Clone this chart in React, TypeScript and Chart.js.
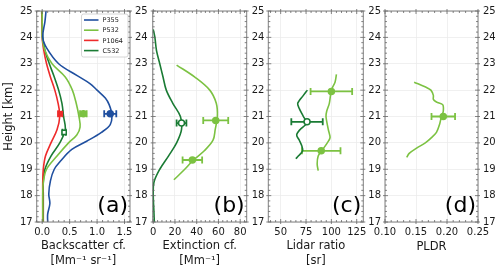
import React, { useEffect, useRef } from "react";
import { Chart, registerables } from "chart.js";

Chart.register(...registerables);

const FONT = "'DejaVu Sans', 'Liberation Sans', sans-serif";
const TEXT = "#1a1a1a";
const SPINE = "#808080";
const GRID = "#ececec";

const C_P355 = "#1f4f9f";
const C_P532 = "#7cc242";
const C_P1064 = "#ee2b2b";
const C_C532 = "#1a7b34";

// ---- shared height axis ----
const heightTicks = [17, 18, 19, 20, 21, 22, 23, 24, 25];
const H_MIN = 17;
const H_MAX = 25;

// ---- legend ----
const legendNames = ["P355", "P532", "P1064", "C532"];
const legendColors = [C_P355, C_P532, C_P1064, C_C532];

// ---- panel (a) backscatter ----
const bscTicks = [0, 0.5, 1.0, 1.5];
const bscP355H = [25, 24.6, 24.0, 23.6, 23.0, 22.56, 22.25, 22.0, 21.7, 21.45, 21.06, 20.69, 20.4, 20.06, 19.75, 19.3, 19.0, 18.56, 18.06, 17.7, 17.3, 17.0];
const bscP355V = [0.07, 0.05, 0.01, 0.08, 0.30, 0.63, 0.87, 1.0, 1.15, 1.22, 1.27, 1.24, 1.08, 0.81, 0.54, 0.33, 0.22, 0.15, 0.12, 0.14, 0.1, 0.1];
const bscP532H = [25, 24.5, 24.0, 23.5, 23.0, 22.5, 22.0, 21.5, 21.0, 20.6, 20.3, 20.0, 19.5, 19.0, 18.5, 18.0, 17.5, 17.0];
const bscP532V = [0.0, 0.0, 0.0, 0.05, 0.18, 0.42, 0.55, 0.62, 0.67, 0.69, 0.63, 0.48, 0.27, 0.08, 0.02, 0.01, 0.01, 0.01];
const bscP1064H = [25, 24.0, 23.5, 23.0, 22.5, 22.0, 21.5, 21.0, 20.5, 20.0, 19.5, 19.0, 18.5, 18.0, 17.0];
const bscP1064V = [0.0, 0.0, 0.03, 0.08, 0.15, 0.23, 0.29, 0.32, 0.27, 0.16, 0.06, 0.02, 0.01, 0.01, 0.01];
const bscC532H = [25, 24.5, 24.0, 23.5, 23.0, 22.5, 22.0, 21.5, 21.0, 20.5, 20.0, 19.5, 19.0, 18.5, 18.0, 17.0];
const bscC532V = [-0.01, 0.0, 0.01, 0.05, 0.13, 0.22, 0.30, 0.36, 0.39, 0.42, 0.32, 0.16, 0.05, 0.02, 0.02, 0.02];
const bscPtH = [21.1, 21.1, 21.1, 20.4];
const bscPtV = [1.24, 0.75, 0.33, 0.40];
const bscPtE = [0.11, 0.06, 0.04, 0.03];

// ---- panel (b) extinction ----
const extTicks = [0, 20, 40, 60, 80];
const extC532H = [24.3, 24.0, 23.5, 23.0, 22.5, 22.0, 21.5, 21.0, 20.5, 20.0, 19.5, 19.0, 18.5, 18.0, 17.5, 17.0];
const extC532V = [0, 1.5, 3, 6, 9, 12, 18, 25, 26, 21.5, 14, 6, 0.6, 0, 0.5, 1];
const extP532H = [22.95, 22.5, 22.0, 21.5, 21.0, 20.5, 20.1, 19.7, 19.35, 19.0, 18.6];
const extP532V = [21.5, 38, 52, 58, 59, 57, 55, 47, 37, 29, 19];
const extC532PtH = [20.75];
const extC532PtV = [26];
const extC532PtE = [4.5];
const extP532PtH = [20.85, 19.35];
const extP532PtV = [57.5, 36];
const extP532PtE = [11.5, 9];

// ---- panel (c) lidar ratio ----
const lrTicks = [50, 75, 100, 125];
const lrC532H = [22.0, 21.8, 21.5, 21.3, 21.0, 20.75, 20.5, 20.3, 20.1, 19.9, 19.7, 19.5, 19.4];
const lrC532V = [76.3, 72.4, 66.8, 68.4, 72.4, 75.7, 69, 65.8, 68.4, 70.7, 71.7, 67.4, 65];
const lrP532H = [22.6, 22.3, 22.0, 21.5, 21.2, 21.0, 20.5, 20.2, 20.0, 19.7, 19.5, 19.2, 18.95];
const lrP532V = [105, 103.6, 100, 98, 95.4, 94.7, 97, 98.7, 96, 90.5, 87, 86, 87];
const lrC532PtH = [20.8];
const lrC532PtV = [76];
const lrC532PtE = [15.5];
const lrP532PtH = [21.95, 19.7];
const lrP532PtV = [100, 90];
const lrP532PtE = [20.5, 19];

// ---- panel (d) PLDR ----
const pldrTicks = [0.1, 0.15, 0.2, 0.25];
const pldrH = [22.3, 22.1, 22.0, 21.8, 21.65, 21.55, 21.45, 21.2, 21.0, 20.7, 20.4, 20.2, 20.0, 19.8, 19.6, 19.45];
const pldrV = [0.147, 0.167, 0.174, 0.178, 0.178, 0.183, 0.193, 0.194, 0.191, 0.188, 0.183, 0.175, 0.165, 0.151, 0.139, 0.135];
const pldrPtH = [21.0];
const pldrPtV = [0.194];
const pldrPtE = [0.019];

// ---- layout ----
const W = 500;
const H = 270;
const TOP = 7;
const BOTTOM = 222;

type Curve = { h: number[]; v: number[]; color: string; tension: number };
type Marker = { h: number[]; v: number[]; err: number[]; color: string; style: string; hollow: boolean; r: number };
type Panel = {
  left: number; right: number; xMin: number; xMax: number;
  xTicks: number[]; xMinor: number; decimals: number;
  title: string | string[]; titlePad: number; label: string;
  leftLabels: boolean; legend: boolean;
  curves: Curve[]; markers: Marker[];
};

const panels: Panel[] = [
  {
    left: 36.7, right: 130, xMin: -0.1, xMax: 1.6, xTicks: bscTicks, xMinor: 0.1, decimals: 1,
    title: ["Backscatter cf.", "[Mm\u207B\u00B9 sr\u207B\u00B9]"], titlePad: 1.5, label: "(a)",
    leftLabels: true, legend: true,
    curves: [
      { h: bscP355H, v: bscP355V, color: C_P355, tension: 0.35 },
      { h: bscP532H, v: bscP532V, color: C_P532, tension: 0.35 },
      { h: bscP1064H, v: bscP1064V, color: C_P1064, tension: 0.35 },
      { h: bscC532H, v: bscC532V, color: C_C532, tension: 0.35 },
    ],
    markers: [
      { h: [bscPtH[0]], v: [bscPtV[0]], err: [bscPtE[0]], color: C_P355, style: "circle", hollow: false, r: 3 },
      { h: [bscPtH[1]], v: [bscPtV[1]], err: [bscPtE[1]], color: C_P532, style: "circle", hollow: false, r: 3 },
      { h: [bscPtH[2]], v: [bscPtV[2]], err: [bscPtE[2]], color: C_P1064, style: "rect", hollow: false, r: 3 },
      { h: [bscPtH[3]], v: [bscPtV[3]], err: [bscPtE[3]], color: C_C532, style: "rect", hollow: true, r: 3 },
    ],
  },
  {
    left: 152.7, right: 246.7, xMin: -0.5, xMax: 86, xTicks: extTicks, xMinor: 4, decimals: 0,
    title: ["Extinction cf.", "[Mm\u207B\u00B9]"], titlePad: 1.5, label: "(b)",
    leftLabels: false, legend: false,
    curves: [
      { h: extC532H, v: extC532V, color: C_C532, tension: 0.35 },
      { h: extP532H, v: extP532V, color: C_P532, tension: 0.35 },
    ],
    markers: [
      { h: extC532PtH, v: extC532PtV, err: extC532PtE, color: C_C532, style: "circle", hollow: true, r: 3 },
      { h: extP532PtH, v: extP532PtV, err: extP532PtE, color: C_P532, style: "circle", hollow: false, r: 3 },
    ],
  },
  {
    left: 268.3, right: 363.3, xMin: 37.8, xMax: 131.5, xTicks: lrTicks, xMinor: 5, decimals: 0,
    title: ["Lidar ratio", "[sr]"], titlePad: 1.5, label: "(c)",
    leftLabels: false, legend: false,
    curves: [
      { h: lrC532H, v: lrC532V, color: C_C532, tension: 0.3 },
      { h: lrP532H, v: lrP532V, color: C_P532, tension: 0.3 },
    ],
    markers: [
      { h: lrC532PtH, v: lrC532PtV, err: lrC532PtE, color: C_C532, style: "circle", hollow: true, r: 3 },
      { h: lrP532PtH, v: lrP532PtV, err: lrP532PtE, color: C_P532, style: "circle", hollow: false, r: 3 },
    ],
  },
  {
    left: 385, right: 478, xMin: 0.1, xMax: 0.25, xTicks: pldrTicks, xMinor: 0.01, decimals: 2,
    title: "PLDR", titlePad: 16, label: "(d)",
    leftLabels: false, legend: false,
    curves: [{ h: pldrH, v: pldrV, color: C_P532, tension: 0.3 }],
    markers: [{ h: pldrPtH, v: pldrPtV, err: pldrPtE, color: C_P532, style: "circle", hollow: false, r: 3 }],
  },
];

const errorBarPlugin = {
  id: "errbars",
  beforeDatasetsDraw(chart: any) {
    const ctx = chart.ctx;
    const xs = chart.scales.x;
    const ys = chart.scales.y;
    chart.data.datasets.forEach((ds: any) => {
      if (!ds.errX) return;
      ds.data.forEach((p: any, i: number) => {
        const e = ds.errX[i];
        const x0 = xs.getPixelForValue(p.x - e);
        const x1 = xs.getPixelForValue(p.x + e);
        const y = ys.getPixelForValue(p.y);
        ctx.save();
        ctx.strokeStyle = ds.borderColor;
        ctx.lineWidth = 1.8;
        ctx.beginPath();
        ctx.moveTo(x0, y);
        ctx.lineTo(x1, y);
        ctx.moveTo(x0, y - 3.5);
        ctx.lineTo(x0, y + 3.5);
        ctx.moveTo(x1, y - 3.5);
        ctx.lineTo(x1, y + 3.5);
        ctx.stroke();
        ctx.restore();
      });
    });
  },
};

function makeFramePlugin(p: Panel) {
  return {
    id: "frame",
    afterDraw(chart: any) {
      const ctx = chart.ctx;
      const a = chart.chartArea;
      const xs = chart.scales.x;
      const ys = chart.scales.y;
      ctx.save();
      ctx.strokeStyle = SPINE;
      ctx.lineWidth = 1;
      ctx.strokeRect(a.left, a.top, a.right - a.left, a.bottom - a.top);
      ctx.strokeStyle = "#666";
      ctx.lineWidth = 0.8;
      ctx.beginPath();
      const eps = 1e-9;
      // x minor + major
      const startX = Math.ceil((p.xMin - eps) / p.xMinor) * p.xMinor;
      for (let v = startX; v <= p.xMax + eps; v += p.xMinor) {
        const isMajor = p.xTicks.some((t) => Math.abs(t - v) < p.xMinor / 10);
        const x = xs.getPixelForValue(v);
        const L = isMajor ? 3 : 2;
        ctx.moveTo(x, a.bottom);
        ctx.lineTo(x, a.bottom - L);
        ctx.moveTo(x, a.top);
        ctx.lineTo(x, a.top + L);
        if (isMajor) {
          ctx.moveTo(x, a.bottom);
          ctx.lineTo(x, a.bottom + 2);
          ctx.moveTo(x, a.top);
          ctx.lineTo(x, a.top - 2);
        }
      }
      // y minor + major
      for (let k = 0; k <= (H_MAX - H_MIN) * 5; k++) {
        const v = H_MIN + k * 0.2;
        const isMajor = k % 5 === 0;
        const y = ys.getPixelForValue(v);
        const L = isMajor ? 3 : 2;
        ctx.moveTo(a.left, y);
        ctx.lineTo(a.left + L, y);
        ctx.moveTo(a.right, y);
        ctx.lineTo(a.right - L, y);
        if (isMajor) {
          ctx.moveTo(a.left, y);
          ctx.lineTo(a.left - 2, y);
          ctx.moveTo(a.right, y);
          ctx.lineTo(a.right + 2, y);
        }
      }
      ctx.stroke();

      // panel label
      ctx.fillStyle = "#000";
      ctx.font = `22px ${FONT}`;
      ctx.textAlign = "right";
      ctx.textBaseline = "alphabetic";
      ctx.fillText(p.label, a.right - 2, a.bottom - 10);

      // legend
      if (p.legend) {
        const bw = 46.5;
        const bh = 43;
        const bx = a.right - 2 - bw;
        const by = a.top + 3;
        ctx.fillStyle = "rgba(255,255,255,0.9)";
        ctx.strokeStyle = "#cccccc";
        ctx.lineWidth = 0.8;
        ctx.beginPath();
        if ((ctx as any).roundRect) (ctx as any).roundRect(bx, by, bw, bh, 2);
        else ctx.rect(bx, by, bw, bh);
        ctx.fill();
        ctx.stroke();
        ctx.font = `6.5px ${FONT}`;
        ctx.textAlign = "left";
        ctx.textBaseline = "middle";
        legendNames.forEach((name, i) => {
          const y = by + 6 + i * 10.2;
          ctx.strokeStyle = legendColors[i];
          ctx.lineWidth = 1.6;
          ctx.beginPath();
          ctx.moveTo(bx + 2.5, y);
          ctx.lineTo(bx + 17, y);
          ctx.stroke();
          ctx.fillStyle = "#222";
          ctx.fillText(name, bx + 21, y + 0.5);
        });
      }
      ctx.restore();
    },
  };
}

function makeConfig(p: Panel): any {
  const leftW = p.leftLabels ? p.left : 2;
  const rightW = 20;
  const datasets: any[] = [];
  p.markers.forEach((m) => {
    datasets.push({
      data: m.h.map((y, i) => ({ x: m.v[i], y })),
      showLine: false,
      pointStyle: m.style,
      pointRadius: m.r,
      pointBackgroundColor: m.hollow ? "#ffffff" : m.color,
      pointBorderColor: m.color,
      pointBorderWidth: 1.5,
      borderColor: m.color,
      backgroundColor: m.color,
      errX: m.err,
      xAxisID: "x",
      yAxisID: "y",
    });
  });
  p.curves.forEach((c) => {
    datasets.push({
      data: c.h.map((y, i) => ({ x: c.v[i], y })),
      showLine: true,
      borderColor: c.color,
      backgroundColor: c.color,
      borderWidth: 1.6,
      pointRadius: 0,
      tension: c.tension,
      fill: false,
      xAxisID: "x",
      yAxisID: "y",
    });
  });
  const tickFont = { family: FONT, size: 10 };
  const titleFont = { family: FONT, size: 11.5, lineHeight: 1.3 };
  return {
    type: "scatter",
    data: { datasets },
    options: {
      responsive: false,
      animation: false,
      devicePixelRatio: 1,
      layout: {
        padding: { left: p.left - leftW, right: W - p.right - rightW, top: TOP, bottom: 0 },
      },
      plugins: { legend: { display: false }, tooltip: { enabled: false }, title: { display: false } },
      scales: {
        x: {
          type: "linear",
          position: "bottom",
          min: p.xMin,
          max: p.xMax,
          afterBuildTicks: (ax: any) => {
            ax.ticks = p.xTicks.map((v) => ({ value: v }));
          },
          afterFit: (s: any) => {
            s.height = H - BOTTOM;
          },
          ticks: {
            font: tickFont,
            color: TEXT,
            padding: 4,
            maxRotation: 0,
            autoSkip: false,
            callback: (v: any) => Number(v).toFixed(p.decimals),
          },
          grid: { color: GRID, lineWidth: 0.8, drawTicks: false },
          border: { display: false },
          title: {
            display: true,
            text: p.title,
            font: titleFont,
            color: TEXT,
            padding: { top: 0, bottom: p.titlePad },
          },
        },
        y: {
          type: "linear",
          position: "left",
          min: H_MIN,
          max: H_MAX,
          afterBuildTicks: (ax: any) => {
            ax.ticks = heightTicks.map((v) => ({ value: v }));
          },
          afterFit: (s: any) => {
            s.width = leftW;
          },
          ticks: {
            display: p.leftLabels,
            font: tickFont,
            color: TEXT,
            padding: 4,
            callback: (v: any) => String(v),
          },
          grid: { color: GRID, lineWidth: 0.8, drawTicks: false },
          border: { display: false },
          title: {
            display: p.leftLabels,
            text: "Height [km]",
            font: { family: FONT, size: 11.5, lineHeight: 1.2 },
            color: TEXT,
            padding: { top: 2, bottom: 0 },
          },
        },
        y2: {
          type: "linear",
          axis: "y",
          position: "right",
          min: H_MIN,
          max: H_MAX,
          afterBuildTicks: (ax: any) => {
            ax.ticks = heightTicks.map((v) => ({ value: v }));
          },
          afterFit: (s: any) => {
            s.width = rightW;
          },
          ticks: {
            font: tickFont,
            color: TEXT,
            padding: 5,
            callback: (v: any) => String(v),
          },
          grid: { display: false, drawTicks: false },
          border: { display: false },
        },
      },
    },
    plugins: [errorBarPlugin, makeFramePlugin(p)],
  };
}

export default function App() {
  const r0 = useRef<HTMLCanvasElement>(null);
  const r1 = useRef<HTMLCanvasElement>(null);
  const r2 = useRef<HTMLCanvasElement>(null);
  const r3 = useRef<HTMLCanvasElement>(null);
  const refs = [r0, r1, r2, r3];

  useEffect(() => {
    const charts = panels.map((p, i) => new Chart(refs[i].current as HTMLCanvasElement, makeConfig(p)));
    return () => charts.forEach((c) => c.destroy());
  }, []);

  return (
    <div style={{ position: "fixed", left: 0, top: 0, width: W, height: H, background: "#fff" }}>
      {panels.map((p, i) => (
        <canvas
          key={p.label}
          ref={refs[i]}
          width={W}
          height={H}
          style={{ position: "absolute", left: 0, top: 0, width: W, height: H }}
        />
      ))}
    </div>
  );
}
